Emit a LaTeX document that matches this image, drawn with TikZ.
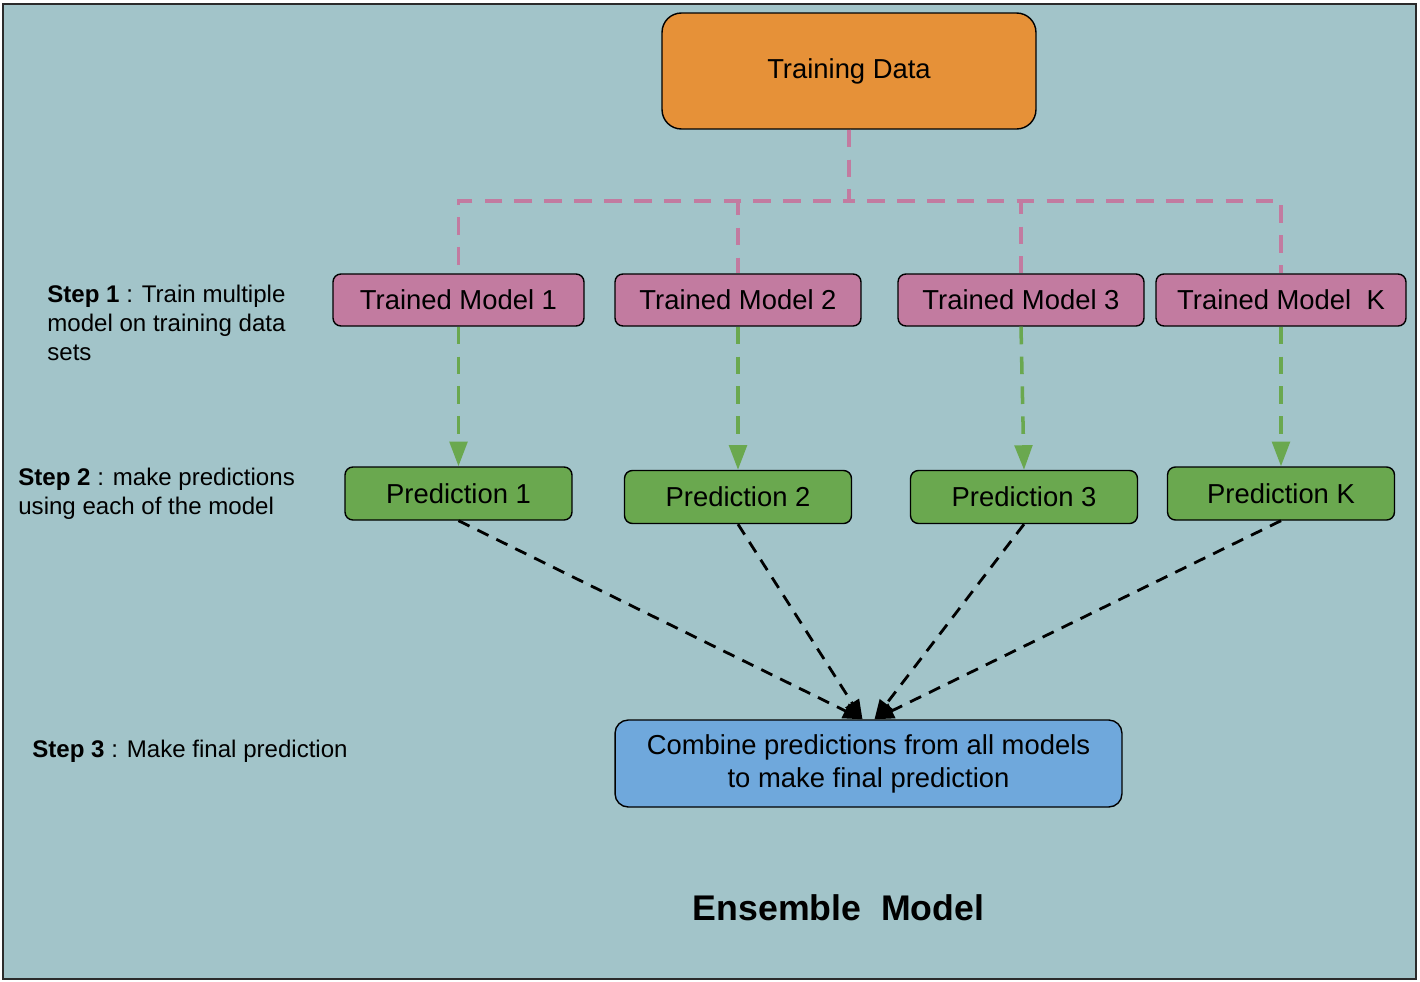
\documentclass[tikz,border=0pt]{standalone}
\usepackage{fontspec}
\setmainfont{Liberation Sans}
\usetikzlibrary{arrows.meta,calc}
\definecolor{enbg}{HTML}{A2C4C9}
\definecolor{enorange}{HTML}{E69138}
\definecolor{enpink}{HTML}{C27BA0}
\definecolor{engreen}{HTML}{6AA84F}
\definecolor{enblue}{HTML}{6FA8DC}
\definecolor{enframe}{HTML}{2B2B2B}
\tikzset{
  box/.style={rectangle,rounded corners=4.5pt,draw=black,line width=.8pt,align=center,inner sep=0pt,font=\fontsize{15.6}{18.8}\selectfont},
  data/.style={box,fill=enorange,rounded corners=11pt,minimum width=7.48cm,minimum height=2.32cm},
  model/.style={box,fill=enpink,minimum width=5.02cm,minimum height=1.04cm},
  pred/.style={box,fill=engreen,minimum width=4.54cm,minimum height=1.06cm},
  combine/.style={box,fill=enblue,rounded corners=7.5pt,minimum width=10.14cm,minimum height=1.74cm},
  split/.style={draw=enpink,line width=2.2pt,dash pattern=on 10pt off 7pt},
  train/.style={draw=engreen,line width=2pt,dash pattern=on 10pt off 7pt,-{Triangle[length=14pt,width=10pt]}},
  vote/.style={draw=black,line width=1.6pt,dash pattern=on 7pt off 5pt,-{Triangle[length=11pt,width=9pt]}},
  note/.style={anchor=base west,align=left,inner sep=0pt,font=\fontsize{13.7}{16.5}\selectfont},
}
\begin{document}
\begin{tikzpicture}[x=0.02cm,y=-0.02cm]
  \useasboundingbox (0,0) rectangle (1420,981);
  \draw[fill=enbg,draw=enframe,line width=1pt] (3,4) rectangle (1416,979);

  % data and models
  \node[data] (td) at (849,71) {\raisebox{-2pt}{Training Data}};
  \node[model] (m1) at (458.5,300) {Trained Model 1};
  \node[model,minimum width=4.92cm] (m2) at (738,300) {Trained Model 2};
  \node[model,minimum width=4.92cm] (m3) at (1021,300) {Trained Model 3};
  \node[model,minimum width=5.0cm] (mk) at (1281,300) {Trained Model\ \ K};

  % predictions
  \node[pred] (p1) at (458.5,493.5) {Prediction 1};
  \node[pred] (p2) at (738,497) {Prediction 2};
  \node[pred] (p3) at (1024,497) {Prediction 3};
  \node[pred] (pk) at (1281,493.5) {Prediction K};

  \node[combine] (comb) at (868.5,763.5) {Combine predictions from all models\\to make final prediction};

  % steps (base is the last line)
  \node[note] (s1) at (47,360) {\textbf{Step 1} : Train multiple\\model on training data\\sets};
  \node[note] (s2) at (18,514) {\textbf{Step 2} : make predictions\\using each of the model};
  \node[note] (s3) at (32,757) {\textbf{Step 3} : Make final prediction};
  \node[anchor=base,inner sep=0pt,font=\fontsize{20.3}{24}\selectfont\bfseries] (title) at (838.5,920) {Ensemble\ \ Model};

  % connectors
  \coordinate (bus) at (0,201);
  \foreach \m in {m1,m2,m3,mk}
    \draw[split] (td.south) -- (td.south |- bus) -| (\m.north);
  \foreach \m/\p in {m1/p1,m2/p2,m3/p3,mk/pk}
    \draw[train] (\m.south) -- (\p.north);
  \coordinate (inl) at ($(comb.north)+(-6,0)$);
  \coordinate (inr) at ($(comb.north)+(6,0)$);
  \draw[vote] (p1.south) -- (inl);
  \draw[vote] (p2.south) -- (inl);
  \draw[vote] (p3.south) -- (inr);
  \draw[vote] (pk.south) -- (inr);
\end{tikzpicture}
\end{document}
